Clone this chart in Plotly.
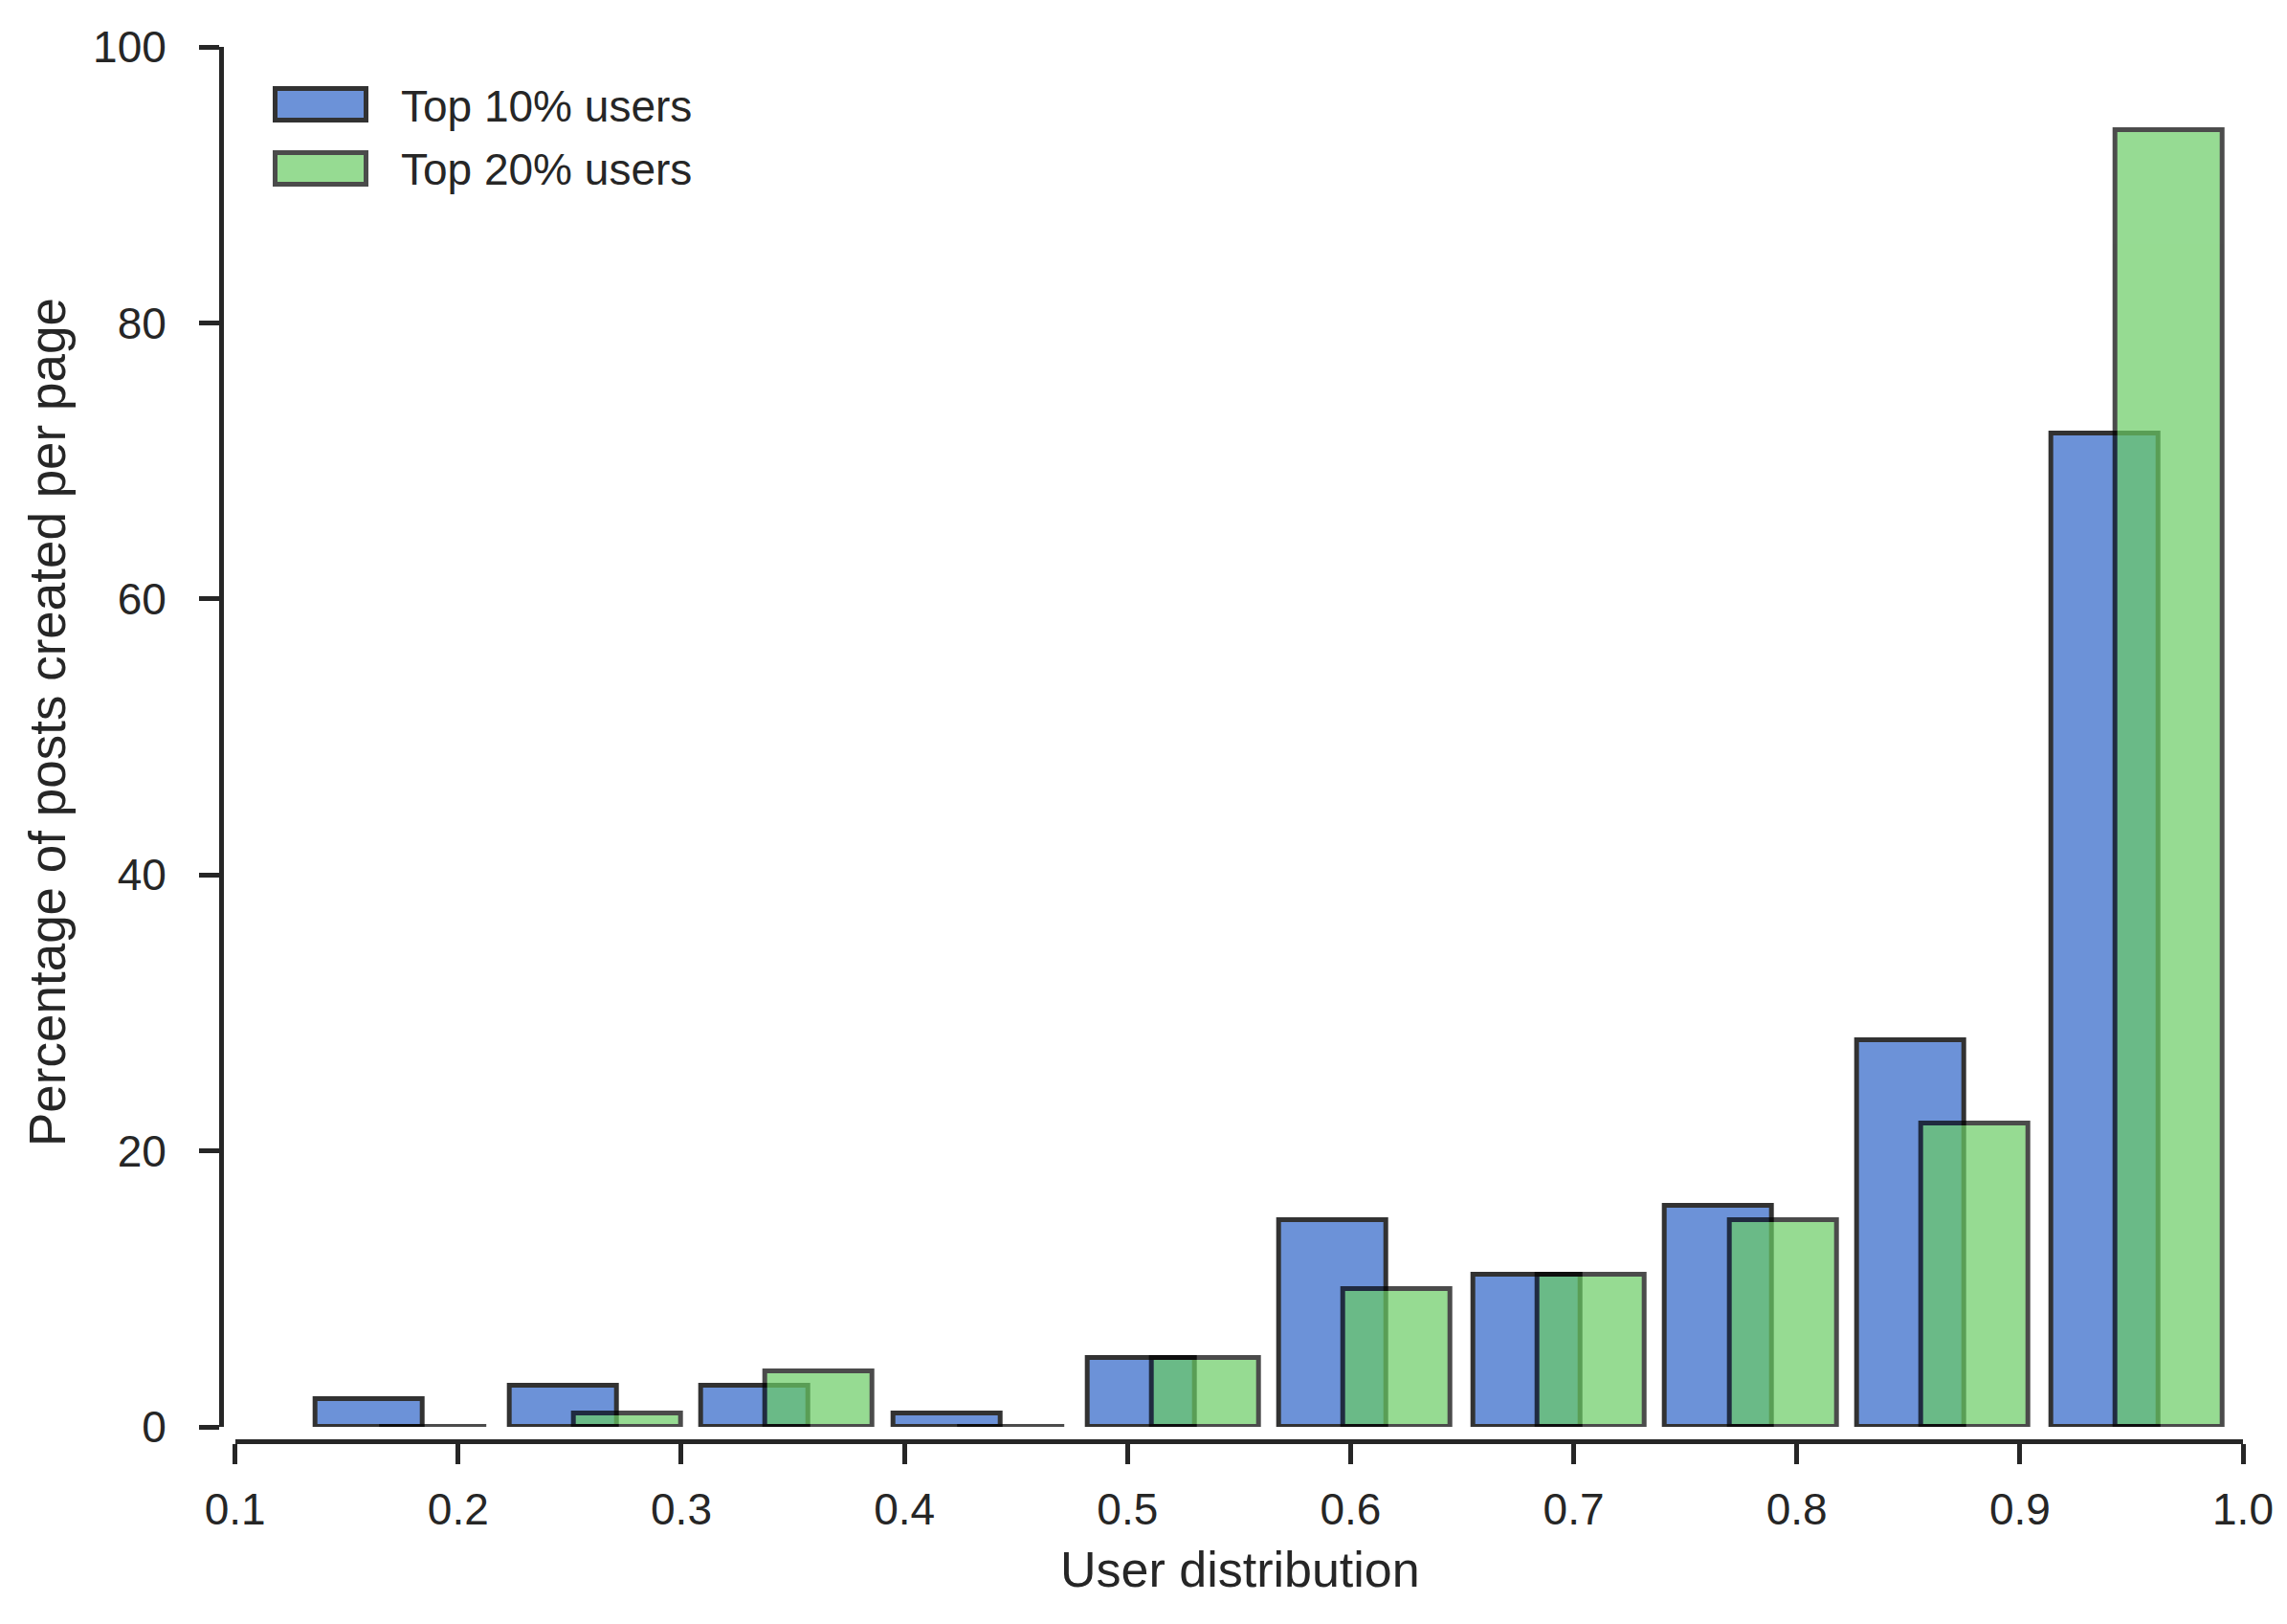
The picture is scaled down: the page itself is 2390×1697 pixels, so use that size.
import plotly.graph_objects as go

# ---- data ----
bin_left = [0.136, 0.223, 0.309, 0.395, 0.482, 0.568, 0.655, 0.741, 0.827, 0.914]
top10 = [2, 3, 3, 1, 5, 15, 11, 16, 28, 72]
top20 = [0, 1, 4, 0, 5, 10, 11, 15, 22, 94]
series_names = ["Top 10% users", "Top 20% users"]
x_ticks = [0.1, 0.2, 0.3, 0.4, 0.5, 0.6, 0.7, 0.8, 0.9, 1.0]
y_ticks = [0, 20, 40, 60, 80, 100]
x_title = "User distribution"
y_title = "Percentage of posts created per page"

# ---- style ----
OFF = 8                                  # default body margin of the html page
W, H = 2390 - OFF, 1697 - OFF
L, R, T, B = 231 - OFF, 2344 - OFF, 49 - OFF, 1506 - OFF   # paper box (figure px)
INK = "#262626"
FONT = "Liberation Sans, Arial, Helvetica, sans-serif"
BLUE, GREEN = "#4878CF", "#6ACC65"
BAR_W = 0.048
GREEN_OFF = 0.0288
LW = 5

def px_x(p):                      # page pixel -> paper fraction
    return (p - OFF - L) / (R - L)

def px_y(p):
    return (B - (p - OFF)) / (B - T)

fig = go.Figure()
fig.add_trace(go.Bar(
    x=bin_left, y=top10, width=BAR_W, offset=0, name=series_names[0],
    marker=dict(color=BLUE, opacity=0.8, line=dict(color="black", width=LW)),
    showlegend=False))
fig.add_trace(go.Bar(
    x=bin_left, y=top20, width=BAR_W, offset=GREEN_OFF, name=series_names[1],
    marker=dict(color=GREEN, opacity=0.7, line=dict(color="black", width=LW)),
    showlegend=False))

axis_common = dict(
    showgrid=False, zeroline=False, showline=True, linecolor=INK, linewidth=LW,
    ticks="outside", ticklen=21, tickwidth=LW, tickcolor=INK,
    tickfont=dict(family=FONT, size=46, color=INK),
    anchor="free", position=0, automargin=False,
)

fig.update_layout(
    width=W, height=H,
    margin=dict(l=L, r=W - R, t=T, b=H - B, pad=0, autoexpand=False),
    paper_bgcolor="white", plot_bgcolor="white",
    barmode="overlay", bargap=0,
    font=dict(family=FONT, color=INK),
    xaxis=dict(
        axis_common, domain=[px_x(245.7), 1], range=[0.1, 1.0],
        tickvals=x_ticks, tickformat=".1f", ticklabelstandoff=8,
    ),
    yaxis=dict(
        axis_common, domain=[px_y(1491), 1], range=[0, 100],
        tickvals=y_ticks, ticklabelstandoff=25,
    ),
)

# axis titles (placed at the reference's text positions)
fig.add_annotation(xref="paper", yref="paper", x=px_x(1296), y=px_y(1640),
                   xanchor="center", yanchor="middle", showarrow=False,
                   text=x_title, font=dict(family=FONT, size=52, color=INK))
fig.add_annotation(xref="paper", yref="paper", x=px_x(49), y=px_y(755),
                   xanchor="center", yanchor="middle", showarrow=False, textangle=-90,
                   text=y_title, font=dict(family=FONT, size=53, color=INK))

# legend drawn as patches + labels (matching matplotlib's large legend handles)
legend_rows = [(92.5, 125.5, BLUE, 0.8, series_names[0], 111),
               (159.5, 192.5, GREEN, 0.7, series_names[1], 177)]
for y0, y1, col, op, label, yc in legend_rows:
    fig.add_shape(type="rect", xref="paper", yref="paper",
                  x0=px_x(287.5), x1=px_x(382.5), y0=px_y(y1), y1=px_y(y0),
                  fillcolor=col, opacity=op, line=dict(color="black", width=LW))
    fig.add_annotation(xref="paper", yref="paper", x=px_x(417), y=px_y(yc),
                       xanchor="left", yanchor="middle", showarrow=False,
                       text=label, font=dict(family=FONT, size=46, color=INK))

fig.write_html("out.html")
